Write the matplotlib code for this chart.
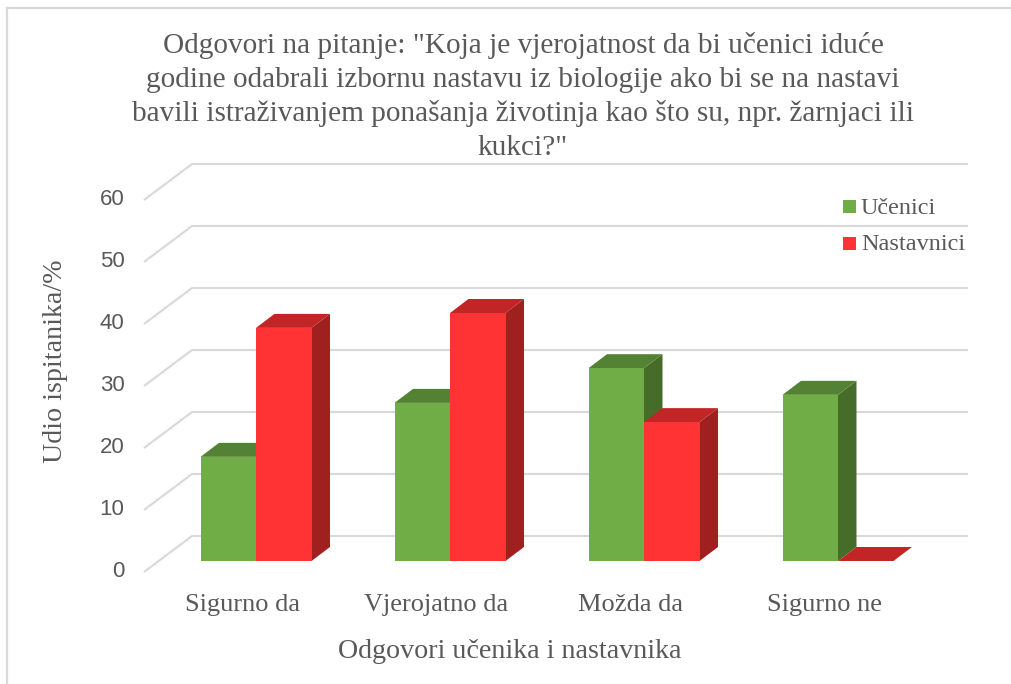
import numpy as np
import matplotlib
matplotlib.use("Agg")
import matplotlib.pyplot as plt

categories = ["Sigurno da", "Vjerojatno da", "Možda da", "Sigurno ne"]
ucenici = [16.8, 25.5, 31.1, 26.8]
nastavnici = [37.6, 40.0, 22.4, 0.0]
y_ticks = [0, 10, 20, 30, 40, 50, 60]

title = ('Odgovori na pitanje: "Koja je vjerojatnost da bi učenici iduće\n'
         'godine odabrali izbornu nastavu iz biologije ako bi se na nastavi\n'
         'bavili istraživanjem ponašanja životinja kao što su, npr. žarnjaci ili\n'
         'kukci?"')

W, H = 1011, 684
SERIF = "Liberation Serif"
SANS = "Liberation Sans"
TEXT = "#595959"
GRID = "#d9d9d9"

fig = plt.figure(figsize=(W / 100, H / 100), dpi=100, facecolor="white")
# pixel box of the front plane: x 144..920, y 200..572 from the top
ax = fig.add_axes([144 / W, 1 - 572 / H, 776 / W, 372 / H])
ax.set_xlim(0, 4)
ax.set_ylim(0, 60)
ax.axis("off")

# sizes in data units (1 category = 194 px, 10 % = 62 px)
depth_x, depth_y = 48 / 194, 36 / 6.2
bar_w = 55.5 / 194
bar_dx, bar_dy = 56.5 / 194, 11 / 6.2        # bar front plane shift
side_x, side_y = 18.5 / 194, 14 / 6.2        # depth of a bar

# gridlines with the slanted wall part
for v in y_ticks:
    ax.plot([0, depth_x, 4 + depth_x], [v, v + depth_y, v + depth_y],
            color=GRID, lw=1.5, clip_on=False, zorder=1, solid_capstyle="butt")
    ax.text(-0.1, v + 0.05, str(v), ha="right", va="center", fontsize=16,
            family=SANS, color=TEXT)


def draw_bar(x0, val, front, top, side, z):
    ax.bar(x0, val, width=bar_w, bottom=bar_dy, align="edge", color=front,
           clip_on=False, zorder=z + 0.2)
    y0, y1 = bar_dy, bar_dy + val
    x1 = x0 + bar_w
    ax.fill([x0, x1, x1 + side_x, x0 + side_x],
            [y1, y1, y1 + side_y, y1 + side_y], color=top, lw=0,
            clip_on=False, zorder=z + 0.1)
    if val > 0:
        ax.fill([x1, x1 + side_x, x1 + side_x, x1],
                [y0, y0 + side_y, y1 + side_y, y1], color=side, lw=0,
                clip_on=False, zorder=z)


for i, (g, r) in enumerate(zip(ucenici, nastavnici)):
    x_g = i + bar_dx
    draw_bar(x_g, g, "#70ad47", "#548235", "#466c2a", 2 + i)
    draw_bar(x_g + bar_w, r, "#ff3333", "#c22525", "#a01f1f", 2.5 + i)
    ax.text(i + 0.508, -5.4, categories[i], ha="center", va="center",
            fontsize=19, family=SERIF, color=TEXT)

# titles, placed in figure pixels
fig.text(523 / W, 1 - 96.5 / H, title, ha="center", va="center", fontsize=21.1,
         family=SERIF, color=TEXT, linespacing=1.38)
fig.text(510 / W, 1 - 651 / H, "Odgovori učenika i nastavnika", ha="center",
         va="center", fontsize=20.2, family=SERIF, color=TEXT)
fig.text(55 / W, 1 - 361 / H, "Udio ispitanika/%", rotation=90, ha="center",
         va="center", fontsize=20.2, family=SERIF, color=TEXT)

# legend by hand, Excel-like
for y_px, col, lab in [(206.5, "#70ad47", "Učenici"), (243.5, "#ff3333", "Nastavnici")]:
    fig.patches.append(plt.Rectangle((843 / W, 1 - (y_px + 6.5) / H), 13 / W, 13 / H,
                                     transform=fig.transFigure, color=col, lw=0))
    fig.text(861 / W, 1 - (y_px + 1.5) / H, lab, ha="left", va="center", fontsize=17.5,
             family=SERIF, color=TEXT)

# outer chart border
for xs, ys in [([7, 7], [8, H]), ([7, W], [8, 8])]:
    fig.add_artist(plt.Line2D(np.array(xs) / W, 1 - np.array(ys) / H,
                              color="#d9d9d9", lw=1.6))

fig.savefig("out.png", dpi=100)
